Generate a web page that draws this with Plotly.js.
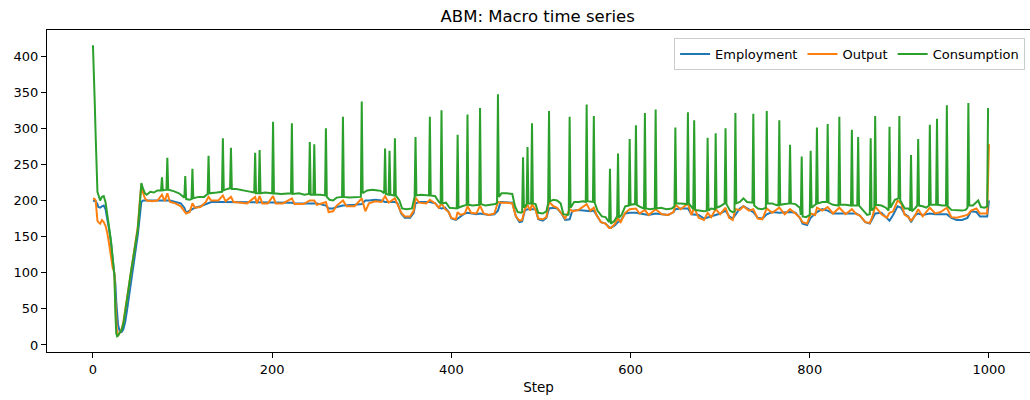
<!DOCTYPE html>
<html>
<head>
<meta charset="utf-8">
<script src="https://cdn.plot.ly/plotly-3.0.1.min.js"></script>
<style>html,body{margin:0;padding:0;background:#fff;}#chart{width:1030px;height:400px;}</style>
</head>
<body>
<div id="chart"></div>
<script>
// Employment / Output sampled steps
const steps = [
0,1,2,3,4,5,6,8,10,12, 14,16,18,20,22,23,24,25,26,27, 28,30,32,34,36,38,40,42,44,46, 48,50,52,54,56,58,
60,66,72,77,80,83,86,92,98,102, 104,108,111,114,120,126,129,132,140,145, 148,154,157,165,172,181,183,186,189,195,
201,204,212,222,225,235,242,247,250,260, 263,268,272,279,283,292,300,304,308,315, 322,326,330,337,340,344,348,354,358,360,
364,372,376,382,386,389,393,397,400,405, 407,410,415,418,422,428,432,436,442,448, 452,455,462,468,472,476,479,482,485,488,
490,494,497,502,506,509,514,518,523,527, 532,535,542,551,555,559,562,567,572,576, 578,582,586,589,594,599,606,610,616,620,
628,635,642,648,650,656,664,668,671,676, 682,686,690,695,700,706,710,714,717,722, 726,732,737,742,747,752,758,766,772,778,
784,789,792,797,801,806,808,814,820,826, 833,840,847,852,856,862,867,870,873,880, 886,889,893,898,902,906,910,913,917,921,
926,934,940,946,953,958,964,970,976,980, 986,990,995,998,1000];
const employment = [
200,200,200,199,197,195,191,190,192,193, 188,175,160,143,122,112,102,85,60,40, 28,18,18,22,32,48,65,82,100,118, 135,152,175,198,200,200,
200,200,200,200,200,200,200,198,196,190, 183,186,188,190,192,195,197,198,198,198, 198,198,198,198,198,198,198,198,198,198,
198,197,197,197,196,196,196,196,196,193, 189,189,191,193,193,194,195,200,200,201, 200,198,198,198,196,182,176,176,183,196,
198,198,198,196,190,189,190,184,175,173, 175,178,182,183,182,181,182,181,180,181, 186,198,198,197,178,170,171,186,188,188,
189,188,174,172,176,189,190,189,182,173, 174,186,187,186,185,186,180,170,168,163, 162,165,170,172,182,183,183,182,181,180,
182,181,180,184,188,189,189,181,181,180, 175,176,178,180,182,186,178,175,180,189, 192,188,184,176,175,181,184,183,184,184,
183,176,168,166,176,182,184,188,186,182, 182,183,182,182,179,170,168,176,182,183, 176,172,180,192,190,181,178,170,179,182,
180,182,181,181,181,176,173,173,176,185, 184,178,178,178,200];
const output = [
203,203,202,200,182,172,170,168,173,170, 165,155,140,122,107,104,98,60,20,12, 13,17,22,32,48,65,82,100,117,132, 148,163,195,222,210,203,
200,199,200,208,199,210,198,196,192,186, 182,184,196,190,191,198,205,200,200,207, 199,205,198,197,196,205,196,206,196,196,
206,196,196,203,195,195,200,200,194,198, 184,185,193,200,192,192,203,185,196,199, 198,206,197,203,194,183,178,178,186,204,
197,196,201,196,190,196,188,184,176,174, 184,180,182,192,183,182,193,182,180,182, 198,197,197,196,178,172,173,188,194,186,
195,187,175,174,177,198,192,190,182,175, 188,185,187,195,186,190,180,170,168,162, 162,167,175,170,183,188,189,182,187,180,
188,181,180,184,194,188,196,180,190,176, 173,183,177,188,181,190,176,173,188,187, 192,186,188,175,174,189,183,190,181,188,
182,176,170,168,182,180,190,186,191,182, 190,181,188,181,179,170,169,178,192,181, 176,183,185,200,196,180,177,172,178,188,
178,190,182,184,190,177,176,178,180,186, 189,182,182,182,278];

// Consumption sampled steps (includes one-step spikes)
const cSteps = [
0,1,2,3,4,5,6,8,10,12, 14,16,18,20,22,23,24,25,26,27, 28,30,32,34,36,38,40,42,44,46, 48,50,52,54,56,58,60,64,68,72,
76,77,78,82,83,84,90,96,102,103, 104,108,110,111,112,118,124,128,129,130, 138,144,145,146,150,153,154,155,160,166,
172,180,181,182,185,186,187,192,200,201, 202,210,216,221,222,223,230,236,241,242, 243,246,247,248,254,259,260,261,264,268,
272,278,279,280,286,292,299,300,301,306, 312,318,322,325,326,327,330,331,332,336, 337,338,342,345,350,356,359,360,361,366,
372,375,376,377,382,386,388,389,390,394, 398,402,406,407,408,412,417,418,419,424, 428,431,432,433,438,444,449,451,452,453,
456,462,468,471,474,478,479,480,481,484, 485,486,489,490,491,494,497,502,506,508, 509,510,514,518,522,525,530,531,532,533,
537,542,547,550,551,552,556,558,559,560, 563,568,572,576,577,578,582,585,586,587, 590,594,598,599,600,605,606,607,611,615,
616,617,622,627,628,629,634,640,646,649, 650,651,656,660,663,664,665,670,671,672, 678,682,685,686,687,690,694,695,696,700,
705,706,707,711,714,716,717,718,722,726, 730,736,737,738,742,747,751,752,753,758, 762,765,766,767,772,777,778,779,784,789,
790,791,792,796,800,801,802,805,807,808, 809,814,819,820,821,826,832,833,834,840, 846,847,848,853,854,855,860,864,867,868,
869,872,873,874,880,885,888,889,890,895, 899,900,901,906,910,912,913,914,918,920, 921,922,926,930,933,934,935,941,942,943,
948,952,953,954,958,964,970,974,976,977, 978,982,986,988,991,995,998,999];
const consumption = [
415,348,335,290,235,212,208,200,205,206, 198,182,165,145,120,110,95,45,16,12, 13,17,21,30,45,62,80,98,115,130, 145,160,190,224,216,210,208,212,211,214,
214,232,214,215,259,215,213,210,204,234, 202,201,202,244,203,205,205,209,262,210, 211,212,286,214,216,217,273,216,216,215,
213,211,266,210,210,270,210,211,210,309, 210,209,210,210,307,209,210,208,209,281, 208,208,278,208,208,207,300,205,201,200,
204,205,316,205,204,204,205,337,210,214, 215,214,213,210,272,209,208,269,208,207, 286,207,200,189,188,189,205,288,207,208,
207,207,316,207,206,198,196,325,196,197, 190,189,189,291,190,192,194,319,194,193, 194,194,328,195,193,194,195,197,347,205,
210,210,209,192,184,183,184,260,190,195, 274,196,196,307,196,195,183,182,185,196, 324,199,201,200,196,181,180,181,316,190,
198,198,199,198,333,199,198,198,317,197, 186,178,177,170,244,168,172,178,265,176, 180,192,193,285,194,195,304,194,191,189,
321,189,188,189,326,189,190,188,189,192, 301,196,196,196,195,322,196,188,311,187, 186,185,186,287,186,189,188,293,190,192,
196,300,195,186,184,185,321,196,198,203, 198,197,320,193,189,188,190,324,196,196, 194,193,311,194,195,196,277,196,195,190,
180,261,178,177,180,269,190,193,195,301, 196,198,198,306,197,194,193,316,194,194, 193,298,193,193,288,193,186,180,181,286,
186,190,317,194,193,190,186,302,190,201, 203,317,200,189,189,186,263,185,190,193, 285,193,192,190,193,305,194,194,313,194,
193,193,332,192,187,186,186,187,190,335, 193,193,198,200,191,190,192,328];

const xTicks = [0, 200, 400, 600, 800, 1000];
const yTicks = [0, 50, 100, 150, 200, 250, 300, 350, 400];

const FONT = 'DejaVu Sans, sans-serif';
const traces = [
  {x: steps, y: employment, name: 'Employment', type: 'scatter', mode: 'lines',
   line: {color: '#1f77b4', width: 2}},
  {x: steps, y: output, name: 'Output', type: 'scatter', mode: 'lines',
   line: {color: '#ff7f0e', width: 2}},
  {x: cSteps, y: consumption, name: 'Consumption', type: 'scatter', mode: 'lines',
   line: {color: '#2ca02c', width: 2}}
];
const axisCommon = {
  showgrid: false, zeroline: false, showline: true, mirror: true,
  linecolor: '#000', linewidth: 1, ticks: 'outside', ticklen: 5, tickwidth: 1,
  tickcolor: '#000', tickfont: {family: FONT, size: 13, color: '#000'}
};
const layout = {
  width: 1030, height: 400,
  margin: {l: 47, r: 0, t: 30, b: 48},
  paper_bgcolor: '#fff', plot_bgcolor: '#fff',
  font: {family: FONT, color: '#000'},
  title: {text: 'ABM: Macro time series', font: {family: FONT, size: 16.5, color: '#000'},
          x: 0.522, xanchor: 'center', y: 0.96, yanchor: 'middle'},
  xaxis: Object.assign({}, axisCommon, {range: [-51.3, 1045.8], tickvals: xTicks,
          ticktext: xTicks.map(String),
          title: {text: 'Step', font: {family: FONT, size: 13.5, color: '#000'}, standoff: 6}}),
  yaxis: Object.assign({}, axisCommon, {range: [-9.7, 436], tickvals: yTicks,
          ticktext: yTicks.map(String)}),
  showlegend: true,
  legend: {orientation: 'h', x: 0.995, xanchor: 'right', y: 0.975, yanchor: 'top',
           bgcolor: 'rgba(255,255,255,0.8)', bordercolor: '#cccccc', borderwidth: 1,
           font: {family: FONT, size: 13, color: '#000'}, traceorder: 'normal'}
};
Plotly.newPlot('chart', traces, layout, {staticPlot: true, displayModeBar: false});
</script>
</body>
</html>
